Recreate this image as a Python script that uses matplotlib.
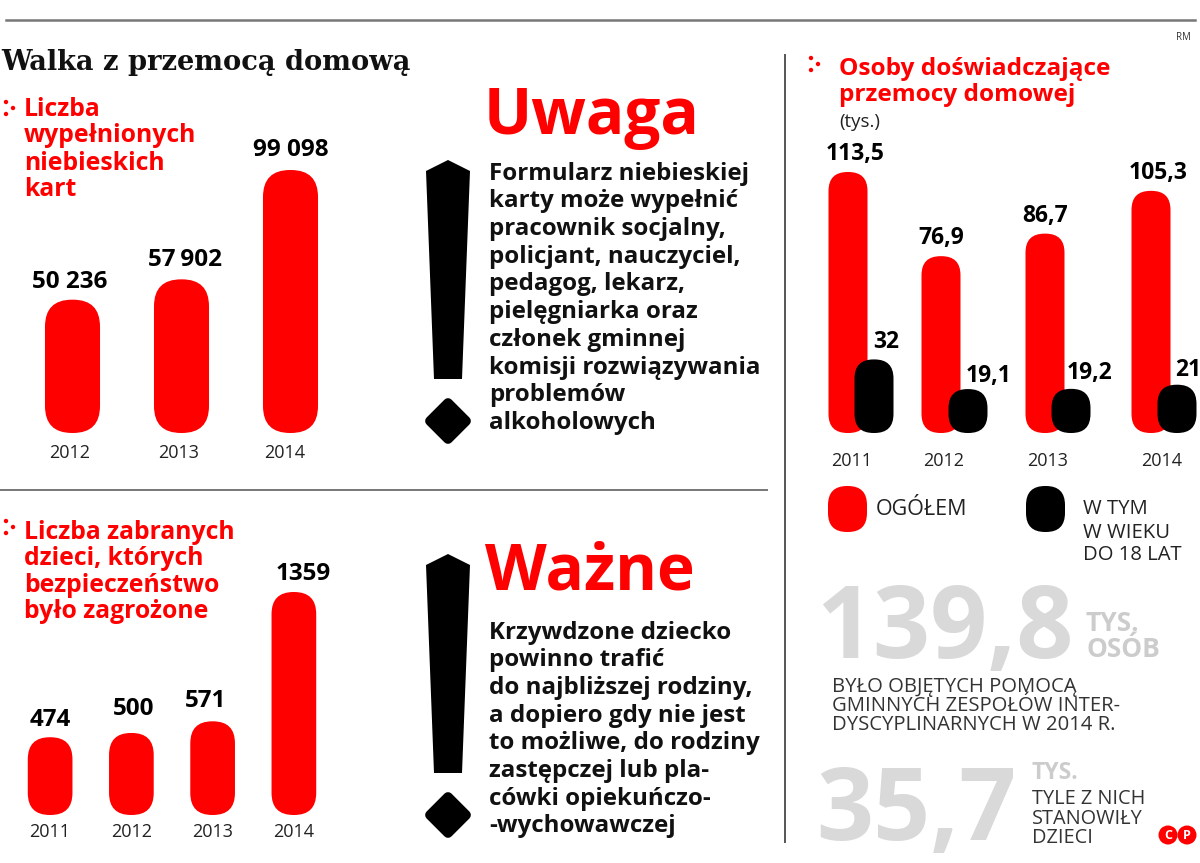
import matplotlib
matplotlib.use("Agg")
import matplotlib.pyplot as plt
from matplotlib.patches import Circle, FancyBboxPatch, Polygon
from matplotlib.transforms import IdentityTransform

W, H = 1200, 863
RED = "#ff0000"
GRAY = "#d9d9d9"

# dane
karty_lata = ["2012", "2013", "2014"]
karty = [50236, 57902, 99098]
dzieci_lata = ["2011", "2012", "2013", "2014"]
dzieci = [474, 500, 571, 1359]
osoby_lata = ["2011", "2012", "2013", "2014"]
osoby_ogolem = [113.5, 76.9, 86.7, 105.3]
osoby_do18 = [32, 19.1, 19.2, 21]

uwaga_txt = ["Formularz niebieskiej", "karty może wypełnić", "pracownik socjalny,",
             "policjant, nauczyciel,", "pedagog, lekarz,", "pielęgniarka oraz",
             "członek gminnej", "komisji rozwiązywania", "problemów", "alkoholowych"]
wazne_txt = ["Krzywdzone dziecko", "powinno trafić", "do najbliższej rodziny,",
             "a dopiero gdy nie jest", "to możliwe, do rodziny", "zastępczej lub pla-",
             "cówki opiekuńczo-", "-wychowawczej"]

plt.rcParams["font.family"] = ["Open Sans", "Noto Sans", "DejaVu Sans"]

fig = plt.figure(figsize=(W / 100, H / 100), dpi=100)

# warstwa w pikselach na tekst i ozdobniki
bg = fig.add_axes([0, 0, 1, 1])
bg.set_xlim(0, W)
bg.set_ylim(H, 0)
bg.axis("off")


def chart_axes(left, top, right, bottom, xlim, ylim, ticks, labels, pad):
    ax = fig.add_axes([left / W, 1 - bottom / H, (right - left) / W, (bottom - top) / H])
    ax.set_xlim(*xlim)
    ax.set_ylim(*ylim)
    ax.patch.set_visible(False)
    for s in ax.spines.values():
        s.set_visible(False)
    ax.set_yticks([])
    ax.set_xticks(ticks)
    ax.set_xticklabels(labels, fontsize=13, color="#222222")
    ax.tick_params(axis="x", length=0, pad=pad)
    return ax


def round_bar(ax, x, value, width, color, radius, zorder=2):
    x0, y0 = ax.transData.transform((x - width / 2, 0))
    x1, y1 = ax.transData.transform((x + width / 2, value))
    ax.add_patch(FancyBboxPatch((x0, y0), x1 - x0, y1 - y0,
                                boxstyle="round,pad=0,rounding_size=%f" % radius,
                                transform=IdentityTransform(), fc=color, ec="none",
                                clip_on=False, zorder=zorder))


def value_label(ax, x, value, text, dx=0, dy=8, size=17.5):
    ax.annotate(text, (x, value), xytext=(dx * 0.72, dy * 0.72), textcoords="offset points",
                ha="center", va="bottom", fontsize=size, fontweight="bold",
                color="black", annotation_clip=False, zorder=5)


def lines(x, ys, txts, **kw):
    for y, t in zip(ys, txts):
        bg.text(x, y + 2, t, va="center", ha="left", **kw)


def dots(x, y):
    for dx, dy in [(0, -6), (7, 0), (0, 6)]:
        bg.add_patch(Circle((x + dx, y + dy), 2.2, fc=RED, ec="none"))


def exclamation(dy):
    bg.add_patch(Polygon([(448, 160 + dy), (470, 171 + dy), (462, 379 + dy),
                          (434, 379 + dy), (426, 171 + dy)], fc="black", ec="none"))
    bg.add_patch(Polygon([(448, 403 + dy), (466, 421 + dy), (448, 439 + dy), (430, 421 + dy)],
                         fc="black", ec="black", lw=7, joinstyle="round"))


# linie
bg.plot([6, 1195], [20, 20], color="#777777", lw=1.8)
bg.plot([0, 767], [490, 490], color="#777777", lw=1.4)
bg.plot([785, 785], [55, 842], color="#555555", lw=1.4)
bg.text(1183, 37, "RM", fontsize=7, ha="center", va="center", color="#333333")

bg.text(1, 62, "Walka z przemocą domową", family="DejaVu Serif", fontweight="bold",
        fontsize=19.6, va="center", ha="left", color="#111111")

# wykres: niebieskie karty
dots(6, 108)
lines(24, [108, 134, 161, 187], ["Liczba", "wypełnionych", "niebieskich", "kart"],
      color=RED, fontsize=17.8, fontweight="bold")
ax1 = chart_axes(18, 170, 345, 433, (-0.5, 2.5), (0, max(karty)),
                 [-0.03, 0.97, 1.945], karty_lata, 8)
karty_txt = ["50 236", "57\u2009902", "99 098"]
for i, v in enumerate(karty):
    round_bar(ax1, i, v, 0.505, RED, 27)
    value_label(ax1, i, v, karty_txt[i], dx=[-3, 3, 0][i], dy=[6, 7, 8][i])

# wykres: dzieci
dots(6, 527)
lines(24, [530, 556, 583, 609],
      ["Liczba zabranych", "dzieci, których", "bezpieczeństwo", "było zagrożone"],
      color=RED, fontsize=17.8, fontweight="bold")
ax2 = chart_axes(9.5, 592, 334.5, 815, (-0.5, 3.5), (0, max(dzieci)),
                 range(len(dzieci)), dzieci_lata, 6)
for i, v in enumerate(dzieci):
    round_bar(ax2, i, v, 0.55, RED, 22)
    value_label(ax2, i, v, str(v), dx=[0, 2, -7, 9][i], dy=[5, 12, 8, 6][i])

# uwaga / ważne
exclamation(0)
bg.text(484, 117, "Uwaga", color=RED, fontsize=46, fontweight="bold", va="center", ha="left")
lines(489, [172, 199, 227, 255, 282, 310, 338, 366, 393, 421], uwaga_txt,
      color="#111111", fontsize=17.4, fontweight="bold")
exclamation(394)
bg.text(485, 573, "Ważne", color=RED, fontsize=46, fontweight="bold", va="center", ha="left")
lines(489, [631, 658, 686, 714, 741, 769, 797, 824], wazne_txt,
      color="#111111", fontsize=17.4, fontweight="bold")

# wykres: osoby (os x w pikselach, grupy nie sa rowno rozstawione)
dots(811, 64)
lines(839, [67, 93], ["Osoby doświadczające", "przemocy domowej"],
      color=RED, fontsize=17.6, fontweight="bold")
bg.text(839, 122, "(tys.)", fontsize=13.5, va="center", ha="left", color="#222222")
red_x = [848, 941, 1045, 1151]
black_x = [874, 968, 1071, 1177]
year_x = [852, 944, 1048, 1162]
ax3 = chart_axes(800, 172, 1200, 433, (800, 1200), (0, max(osoby_ogolem)),
                 year_x, osoby_lata, 14)
dx_red = [7, 0, 0, 7]
dy_black = [5, 1, 4, 3]
dx_black = [12, 21, 19, 11]
for i in range(len(osoby_ogolem)):
    round_bar(ax3, red_x[i], osoby_ogolem[i], 39, RED, 19, 2)
    round_bar(ax3, black_x[i], osoby_do18[i], 39, "black", 19, 3)
    value_label(ax3, red_x[i], osoby_ogolem[i], str(osoby_ogolem[i]).replace(".", ","),
                dx=dx_red[i], dy=6, size=16.5)
    value_label(ax3, black_x[i], osoby_do18[i], str(osoby_do18[i]).replace(".", ","),
                dx=dx_black[i], dy=dy_black[i], size=16.5)

# legenda
bg.add_patch(FancyBboxPatch((828, 486), 39, 46, boxstyle="round,pad=0,rounding_size=19",
                            fc=RED, ec="none"))
bg.add_patch(FancyBboxPatch((1026, 486), 39, 46, boxstyle="round,pad=0,rounding_size=19",
                            fc="black", ec="none"))
bg.text(876, 509, "OGÓŁEM", fontsize=15.5, va="center", ha="left", color="#222222")
lines(1083, [507, 531, 553], ["W TYM", "W WIEKU", "DO 18 LAT"],
      fontsize=14.6, color="#222222")

# duze liczby
bg.text(816, 631, "139,8", fontsize=72, fontweight="bold", color=GRAY, va="center", ha="left")
lines(1086, [621, 647], ["TYS.", "OSÓB"], fontsize=19, fontweight="bold", color="#cccccc")
bg.text(832, 706, "BYŁO OBJĘTYCH POMOCĄ\nGMINNYCH ZESPOŁÓW INTER-\nDYSCYPLINARNYCH W 2014 R.",
        fontsize=14.6, color="#333333", va="center", ha="left", linespacing=0.95)
bg.text(816, 813, "35,7", fontsize=72, fontweight="bold", color=GRAY, va="center", ha="left")
bg.text(1032, 773, "TYS.", fontsize=16.5, fontweight="bold", color="#cccccc", va="center", ha="left")
lines(1032, [797, 817, 836], ["TYLE Z NICH", "STANOWIŁY", "DZIECI"],
      fontsize=14.3, color="#333333")

# znaczki praw autorskich
for cx, t in [(1168, "C"), (1187, "P")]:
    bg.add_patch(Circle((cx, 835), 9.5, fc=RED, ec="none"))
    bg.text(cx, 835, t, color="white", fontsize=9, fontweight="bold", ha="center", va="center")

fig.savefig("out.png", dpi=100)
